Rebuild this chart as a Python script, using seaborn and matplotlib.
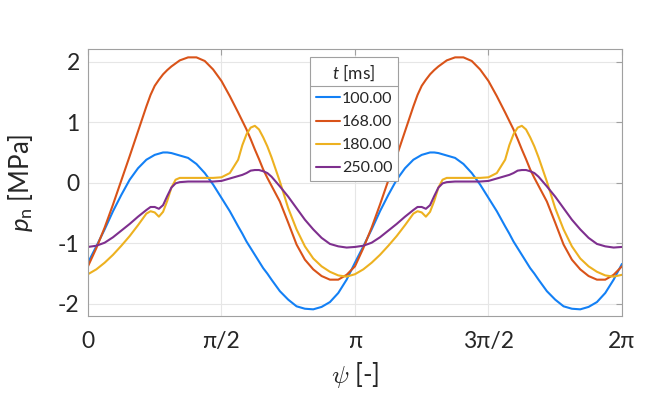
import numpy as np
import pandas as pd
import matplotlib
matplotlib.use("Agg")
import matplotlib.pyplot as plt
import seaborn as sns
from matplotlib.lines import Line2D

# psi sample positions in units of pi/32
psi_32 = [0, 1, 2, 3, 4, 5, 6, 7, 7.5, 8, 8.5, 9, 9.5, 10, 10.5, 11, 12, 13, 14, 15, 16, 17,
          18, 18.5, 19, 19.5, 20, 20.5, 21, 21.5, 22, 23, 24, 25, 26, 27, 28, 29, 30, 31,
          32, 33, 34, 35, 36, 37, 38, 39, 39.5, 40, 40.5, 41, 41.5, 42, 42.5, 43, 44, 45, 46, 47, 48, 49,
          50, 50.5, 51, 51.5, 52, 52.5, 53, 53.5, 54, 55, 56, 57, 58, 59, 60, 61, 62, 63,
          64]

p_100 = [-1.32, -1.05, -0.77, -0.47, -0.20, 0.05, 0.24, 0.38, 0.42, 0.46, 0.48, 0.50, 0.50, 0.49, 0.47, 0.45, 0.41, 0.31, 0.16, -0.03, -0.25, -0.47,
         -0.72, -0.84, -0.97, -1.08, -1.19, -1.30, -1.41, -1.50, -1.60, -1.79, -1.93, -2.04, -2.08, -2.09, -2.05, -1.97, -1.82, -1.60,
         -1.32, -1.05, -0.77, -0.47, -0.20, 0.05, 0.24, 0.38, 0.42, 0.46, 0.48, 0.50, 0.50, 0.49, 0.47, 0.45, 0.41, 0.31, 0.16, -0.03, -0.25, -0.47,
         -0.72, -0.84, -0.97, -1.08, -1.19, -1.30, -1.41, -1.50, -1.60, -1.79, -1.93, -2.04, -2.08, -2.09, -2.05, -1.97, -1.82, -1.60,
         -1.34]

p_168 = [-1.38, -1.08, -0.74, -0.36, 0.04, 0.44, 0.85, 1.26, 1.45, 1.60, 1.70, 1.79, 1.86, 1.92, 1.97, 2.02, 2.07, 2.07, 2.01, 1.87, 1.68, 1.43,
         1.16, 1.02, 0.88, 0.72, 0.55, 0.39, 0.22, 0.08, -0.05, -0.31, -0.66, -1.02, -1.27, -1.43, -1.54, -1.60, -1.60, -1.52,
         -1.38, -1.08, -0.74, -0.36, 0.04, 0.44, 0.85, 1.26, 1.45, 1.60, 1.70, 1.79, 1.86, 1.92, 1.97, 2.02, 2.07, 2.07, 2.01, 1.87, 1.68, 1.43,
         1.16, 1.02, 0.88, 0.72, 0.55, 0.39, 0.22, 0.08, -0.05, -0.31, -0.66, -1.02, -1.27, -1.43, -1.54, -1.60, -1.60, -1.52,
         -1.38]

p_180 = [-1.51, -1.43, -1.32, -1.19, -1.04, -0.88, -0.70, -0.51, -0.47, -0.49, -0.56, -0.48, -0.30, -0.08, 0.05, 0.08, 0.08, 0.08, 0.08, 0.08, 0.09, 0.16,
         0.38, 0.62, 0.80, 0.91, 0.94, 0.88, 0.75, 0.60, 0.42, 0.02, -0.42, -0.77, -1.05, -1.25, -1.38, -1.47, -1.53, -1.55,
         -1.51, -1.43, -1.32, -1.19, -1.04, -0.88, -0.70, -0.51, -0.47, -0.49, -0.56, -0.48, -0.30, -0.08, 0.05, 0.08, 0.08, 0.08, 0.08, 0.08, 0.09, 0.16,
         0.38, 0.62, 0.80, 0.91, 0.94, 0.88, 0.75, 0.60, 0.42, 0.02, -0.42, -0.77, -1.05, -1.25, -1.38, -1.47, -1.53, -1.55,
         -1.52]

p_250 = [-1.06, -1.04, -0.99, -0.90, -0.79, -0.68, -0.56, -0.45, -0.40, -0.40, -0.43, -0.37, -0.22, -0.08, -0.01, 0.01, 0.02, 0.02, 0.02, 0.02, 0.03, 0.07,
         0.11, 0.13, 0.16, 0.20, 0.21, 0.21, 0.19, 0.16, 0.10, -0.06, -0.23, -0.42, -0.61, -0.77, -0.91, -1.01, -1.05, -1.07,
         -1.06, -1.04, -0.99, -0.90, -0.79, -0.68, -0.56, -0.45, -0.40, -0.40, -0.43, -0.37, -0.22, -0.08, -0.01, 0.01, 0.02, 0.02, 0.02, 0.02, 0.03, 0.07,
         0.11, 0.13, 0.16, 0.20, 0.21, 0.21, 0.19, 0.16, 0.10, -0.06, -0.23, -0.42, -0.61, -0.77, -0.91, -1.01, -1.05, -1.07,
         -1.06]

t_labels = ["100.00", "168.00", "180.00", "250.00"]
colors = ["#1380f5", "#d95319", "#edb120", "#7e2f8e"]
xtick_labels = ["0", "π/2", "π", "3π/2", "2π"]
ytick_values = [-2, -1, 0, 1, 2]

sns.set_style("white")
plt.rcParams["font.family"] = ["Lato", "DejaVu Sans"]
plt.rcParams["mathtext.fontset"] = "custom"
plt.rcParams["mathtext.it"] = "Lato:italic"
plt.rcParams["mathtext.rm"] = "Lato"
plt.rcParams["mathtext.sf"] = "Lato"
plt.rcParams["axes.unicode_minus"] = False

psi = np.array(psi_32) * np.pi / 32
series = [p_100, p_168, p_180, p_250]
df = pd.concat([pd.DataFrame({"psi": psi, "p": v, "t": lab}) for v, lab in zip(series, t_labels)],
               ignore_index=True)

fig = plt.figure(figsize=(6.7, 3.95), dpi=100)
ax = fig.add_axes([0.1313, 0.2, 0.797, 0.6747])
sns.lineplot(data=df, x="psi", y="p", hue="t", palette=dict(zip(t_labels, colors)),
             sort=False, estimator=None, linewidth=1.5, ax=ax, legend=False)

ax.set_xlim(0, 2 * np.pi)
ax.set_ylim(-2.2, 2.2)
ax.set_xticks(np.arange(5) * np.pi / 2)
ax.set_xticklabels(xtick_labels)
ax.set_yticks(ytick_values)
ax.set_yticklabels([str(v) for v in ytick_values])
ax.grid(True, color="#e6e6e6", lw=0.8)
ax.set_axisbelow(True)
for s in ax.spines.values():
    s.set_color("#a0a0a0")
    s.set_linewidth(0.8)
ax.tick_params(direction="in", length=4, width=0.8, color="#a0a0a0", labelsize=16.5,
               labelcolor="#262626", top=True, right=True)
ax.tick_params(axis="x", pad=11)
ax.tick_params(axis="y", pad=6)

yl = ax.set_ylabel(r"$p_{\mathrm{n}}$ [MPa]", fontsize=18.5, color="#262626")
ax.yaxis.set_label_coords(-0.10, 0.5)
xl = ax.set_xlabel(r"$\psi$ [-]", fontsize=18.5, color="#262626")
xl.set_math_fontfamily("cm")
ax.xaxis.set_label_coords(0.5, -0.165)
xl.set_verticalalignment("top")

handles = [Line2D([], [], color=c, lw=1.5) for c in colors]
leg = ax.legend(handles, t_labels, title=r"$t$ [ms]", loc="upper left",
                bbox_to_anchor=(0.416, 0.972), fontsize=11.5, title_fontsize=12.5,
                frameon=True, fancybox=False, edgecolor="#a0a0a0", framealpha=1,
                borderpad=0.35, handlelength=1.5, handletextpad=0.15,
                labelspacing=0.56, borderaxespad=0)
leg.get_frame().set_linewidth(0.8)
for txt in leg.get_texts():
    txt.set_color("#262626")
leg.get_title().set_color("#262626")

fig.canvas.draw()
r = fig.canvas.get_renderer()
lb = leg.get_window_extent(r)
tb = leg.get_title().get_window_extent(r)
ysep = tb.y0 - 3
inv = fig.transFigure.inverted()
(x0f, yf), (x1f, _) = inv.transform([(lb.x0, ysep), (lb.x1, ysep)])
fig.add_artist(Line2D([x0f, x1f], [yf, yf], transform=fig.transFigure, color="#a0a0a0", lw=0.8, zorder=10))

fig.savefig("out.png", dpi=100)
